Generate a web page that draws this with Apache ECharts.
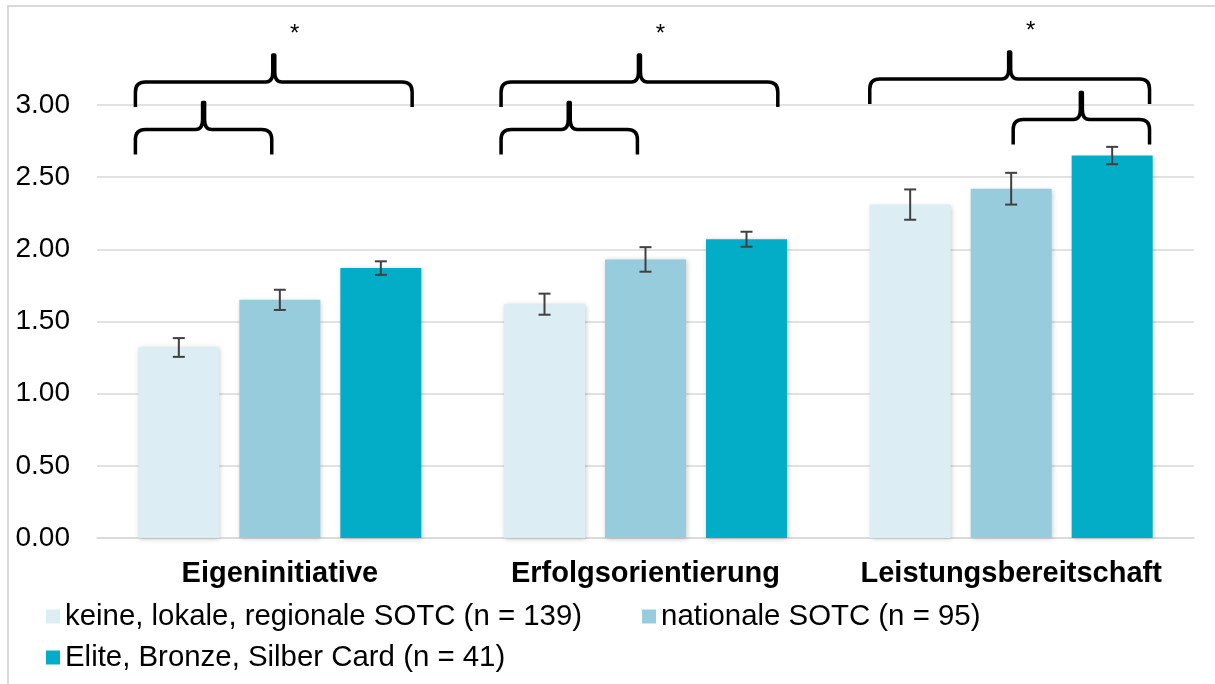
<!DOCTYPE html>
<html>
<head>
<meta charset="utf-8">
<script src="https://cdn.jsdelivr.net/npm/echarts@6/dist/echarts.min.js"></script>
<style>html,body{margin:0;padding:0;background:#fff}#c{width:1215px;height:684px}</style>
</head>
<body>
<div id="c"></div>
<script>
// ---- data ----
var categories = ['Eigeninitiative', 'Erfolgsorientierung', 'Leistungsbereitschaft'];
var seriesNames = ['keine, lokale, regionale SOTC (n = 139)', 'nationale SOTC (n = 95)', 'Elite, Bronze, Silber Card (n = 41)'];
var meansLow = [1.32, 1.62, 2.31];
var meansNational = [1.65, 1.93, 2.42];
var meansElite = [1.87, 2.07, 2.65];
var errLow = [0.065, 0.073, 0.105];
var errNational = [0.07, 0.085, 0.11];
var errElite = [0.047, 0.052, 0.06];
var yTicks = [0, 0.5, 1, 1.5, 2, 2.5, 3];
// significance braces: [category, fromBarSlot, toBarSlot, level, showStar]
var braces = [
  [0, -0.43, 2.31, 3.16, 1],
  [0, -0.43, 0.92, 2.83, 0],
  [1, -0.43, 2.31, 3.16, 1],
  [1, -0.43, 0.92, 2.83, 0],
  [2, -0.40, 2.37, 3.18, 1],
  [2, 1.02, 2.37, 2.90, 0]
];

// ---- style ----
var colors = ['#DCEDF3', '#96CCDC', '#04ADC7'];
var FONT = '"Liberation Sans", Arial, sans-serif';
var BAR_W = 81, BAR_GAP = 20, SLOT = BAR_W + BAR_GAP;

var means = [meansLow, meansNational, meansElite];
var errs = [errLow, errNational, errElite];
var errData = [];
for (var s = 0; s < 3; s++) {
  for (var c = 0; c < categories.length; c++) {
    errData.push([c, s, means[s][c] - errs[s][c], means[s][c] + errs[s][c]]);
  }
}

var chart = echarts.init(document.getElementById('c'), null, {renderer: 'canvas'});

var barSeries = seriesNames.map(function (n, i) {
  return {
    name: n, type: 'bar', data: means[i], barWidth: BAR_W, barGap: (BAR_GAP / BAR_W * 100) + '%',
    itemStyle: {color: colors[i], shadowBlur: 5, shadowColor: 'rgba(0,0,0,0.22)', shadowOffsetX: 1, shadowOffsetY: 1},
    emphasis: {disabled: true}, z: 2
  };
});

var option = {
  animation: false,
  textStyle: {fontFamily: FONT},
  graphic: [{type: 'rect', shape: {x: 8, y: 6, width: 1220, height: 700}, style: {fill: 'none', stroke: '#D9D9D9', lineWidth: 2}, z: -10}],
  grid: {left: 97, right: 21, top: 105, bottom: 146},
  legend: [
    {data: [seriesNames[0], seriesNames[1]], left: 41, top: 597, itemWidth: 14, itemHeight: 14, itemGap: 60, icon: 'rect',
     textStyle: {fontSize: 29.4, color: '#000', fontFamily: FONT}, selectedMode: false},
    {data: [seriesNames[2]], left: 41, top: 638, itemWidth: 14, itemHeight: 14, icon: 'rect',
     textStyle: {fontSize: 29.4, color: '#000', fontFamily: FONT}, selectedMode: false}
  ],
  xAxis: {
    type: 'category', data: categories,
    axisLine: {lineStyle: {color: '#D9D9D9', width: 1.5}}, axisTick: {show: false},
    axisLabel: {interval: 0, fontSize: 29, fontWeight: 'bold', color: '#000', margin: 21, fontFamily: FONT}
  },
  yAxis: {
    type: 'value', min: yTicks[0], max: yTicks[yTicks.length - 1], interval: yTicks[1] - yTicks[0],
    axisLine: {show: false}, axisTick: {show: false},
    splitLine: {lineStyle: {color: '#D9D9D9', width: 1.5}},
    axisLabel: {fontSize: 28, color: '#000', margin: 27, fontFamily: FONT, formatter: function (v) { return v.toFixed(2); }}
  },
  series: barSeries.concat([
    {
      type: 'custom', name: 'err', data: errData, encode: {x: 0, y: 3}, z: 5, silent: true, clip: false,
      renderItem: function (params, api) {
        var c = api.value(0), s = api.value(1);
        var lo = api.coord([c, api.value(2)]), hi = api.coord([c, api.value(3)]);
        var x = lo[0] + (s - 1) * SLOT;
        var st = {stroke: '#404040', lineWidth: 2};
        return {type: 'group', children: [
          {type: 'line', shape: {x1: x, y1: lo[1], x2: x, y2: hi[1]}, style: st},
          {type: 'line', shape: {x1: x - 6, y1: lo[1], x2: x + 6, y2: lo[1]}, style: st},
          {type: 'line', shape: {x1: x - 6, y1: hi[1], x2: x + 6, y2: hi[1]}, style: st}
        ]};
      }
    },
    {
      type: 'custom', name: 'brace', data: braces, encode: {x: 0, y: 3}, z: 6, silent: true, clip: false,
      renderItem: function (params, api) {
        var c = api.value(0);
        var p = api.coord([c, api.value(3)]);
        var cx = p[0], yH = p[1];
        var x0 = cx + (api.value(1) - 1) * SLOT, x1 = cx + (api.value(2) - 1) * SLOT;
        var xm = (x0 + x1) / 2;
        var drop = 25, rise = 27, r = 10;
        var d = 'M' + x0 + ' ' + (yH + drop) +
          ' L' + x0 + ' ' + (yH + r) +
          ' Q' + x0 + ' ' + yH + ' ' + (x0 + r) + ' ' + yH +
          ' L' + (xm - 8) + ' ' + yH +
          ' Q' + (xm - 1) + ' ' + yH + ' ' + (xm - 1) + ' ' + (yH - 10) +
          ' L' + (xm - 1) + ' ' + (yH - rise) +
          ' L' + (xm + 1) + ' ' + (yH - rise) +
          ' L' + (xm + 1) + ' ' + (yH - 10) +
          ' Q' + (xm + 1) + ' ' + yH + ' ' + (xm + 8) + ' ' + yH +
          ' L' + (x1 - r) + ' ' + yH +
          ' Q' + x1 + ' ' + yH + ' ' + x1 + ' ' + (yH + r) +
          ' L' + x1 + ' ' + (yH + drop);
        var children = [{type: 'path', shape: {pathData: d}, style: {fill: 'none', stroke: '#000', lineWidth: 3.5, lineJoin: 'round'}}];
        if (api.value(4)) {
          children.push({type: 'text', x: xm + 21, y: yH - rise - 21, style: {text: '*', fontSize: 24, fill: '#000', align: 'center', verticalAlign: 'middle', fontFamily: FONT}});
        }
        return {type: 'group', children: children};
      }
    }
  ])
};
chart.setOption(option);
</script>
</body>
</html>
